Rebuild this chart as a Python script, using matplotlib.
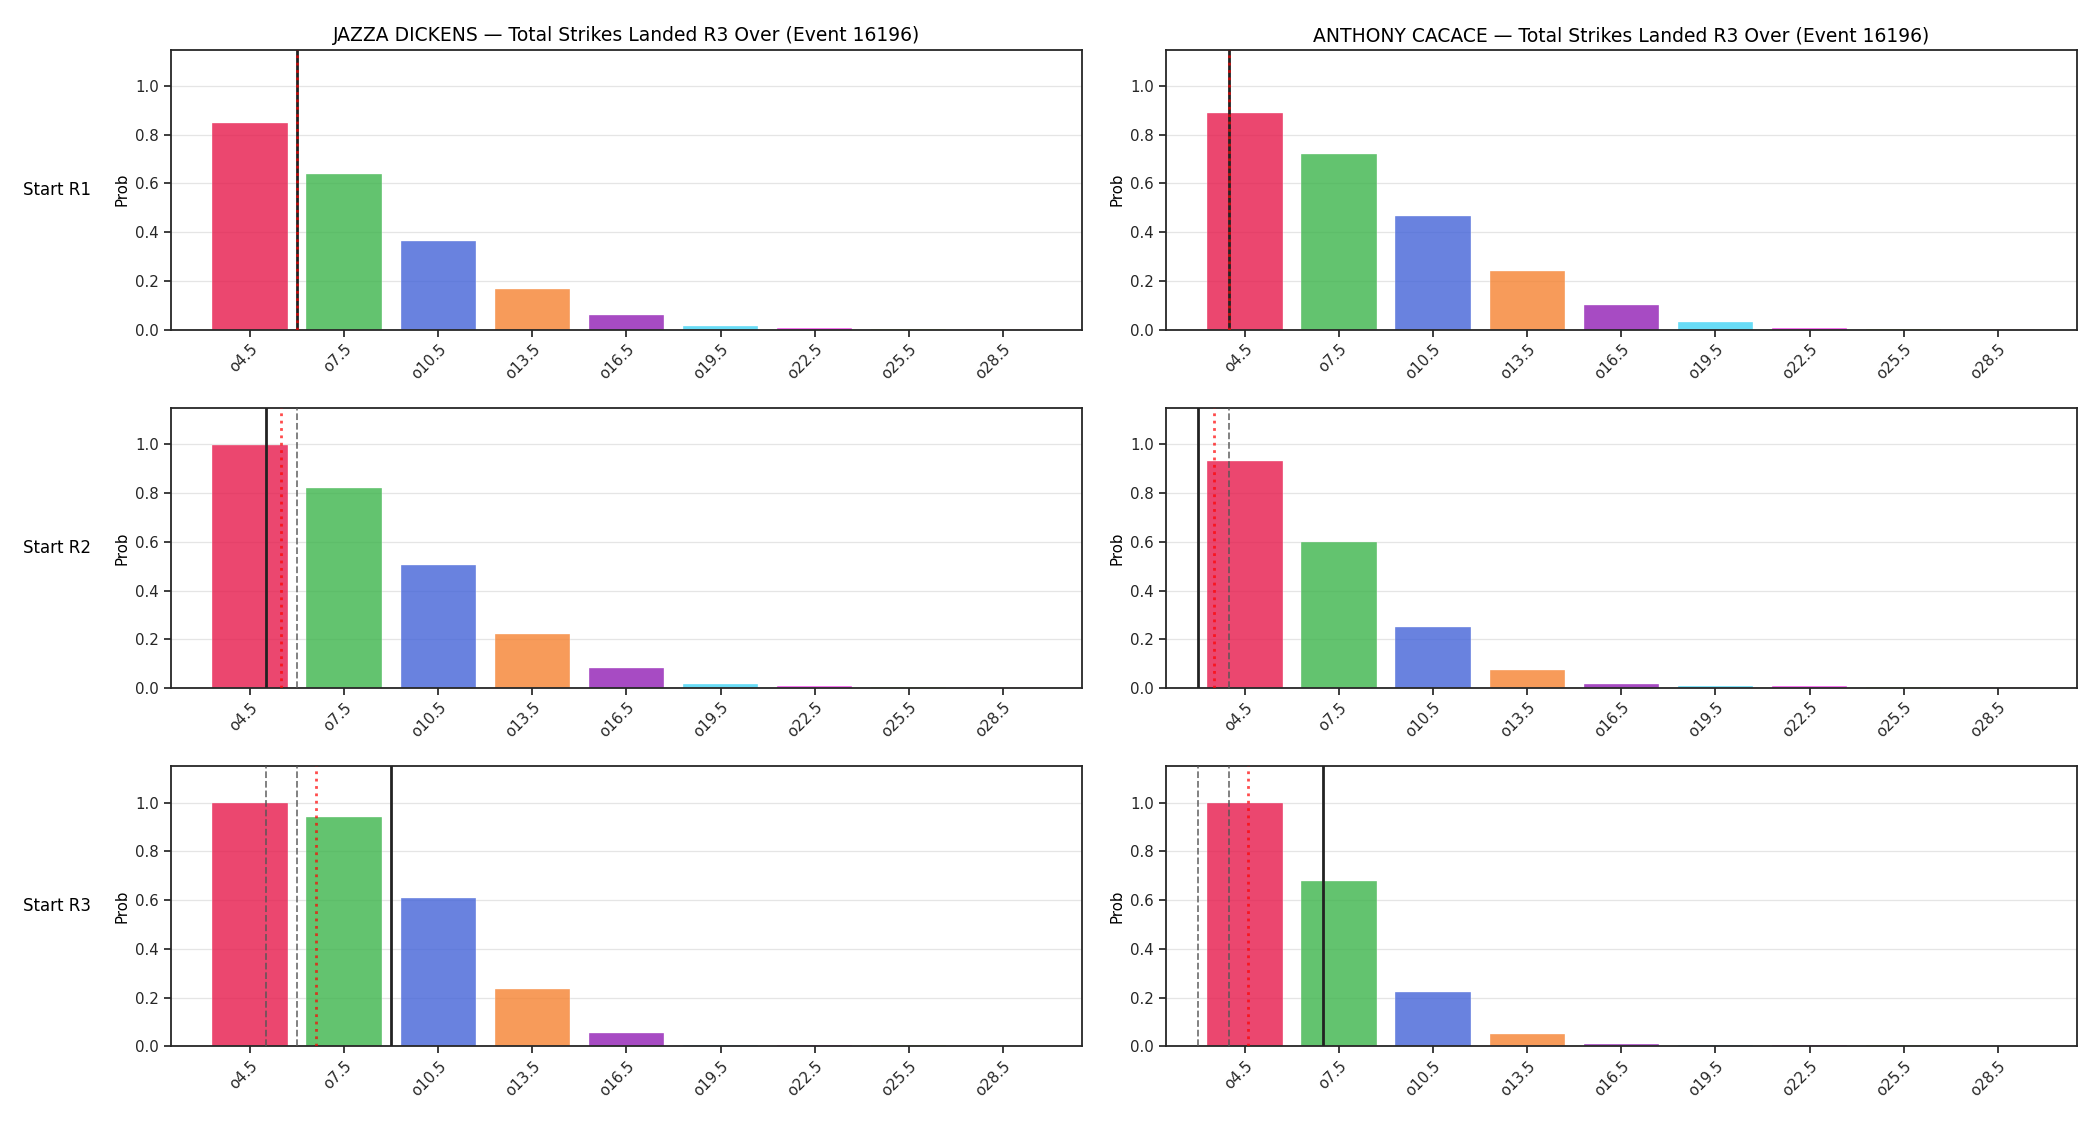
import matplotlib
matplotlib.use("Agg")
import matplotlib.pyplot as plt
import numpy as np

# over lines (strikes landed in R3)
lines = [4.5, 7.5, 10.5, 13.5, 16.5, 19.5, 22.5, 25.5, 28.5]
labels = ["o4.5", "o7.5", "o10.5", "o13.5", "o16.5", "o19.5", "o22.5", "o25.5", "o28.5"]
colors = ["#e6194b", "#3cb44b", "#4363d8", "#f58231", "#911eb4",
          "#42d4f4", "#f032e6", "#bfef45", "#fabed4"]

fighters = ["JAZZA DICKENS", "ANTHONY CACACE"]
row_names = ["Start R1", "Start R2", "Start R3"]

# P(over) per start round
jazza_probs = [
    [0.85, 0.64, 0.365, 0.165, 0.06, 0.016, 0.005, 0.003, 0.002],
    [0.997, 0.82, 0.505, 0.22, 0.083, 0.016, 0.007, 0.005, 0.003],
    [0.997, 0.943, 0.61, 0.237, 0.053, 0.006, 0.005, 0.004, 0.003],
]
cacace_probs = [
    [0.89, 0.72, 0.465, 0.24, 0.10, 0.03, 0.008, 0.004, 0.002],
    [0.93, 0.60, 0.25, 0.075, 0.016, 0.006, 0.006, 0.005, 0.004],
    [0.997, 0.68, 0.222, 0.05, 0.008, 0.005, 0.005, 0.004, 0.003],
]

# projection (solid) and mean (dotted) per start round, in strikes
jazza_proj = [6.0, 5.0, 9.0]
jazza_mean = [6.0, 5.5, 6.6]
cacace_proj = [4.0, 3.0, 7.0]
cacace_mean = [4.0, 3.5, 4.6]

probs = [jazza_probs, cacace_probs]
projs = [jazza_proj, cacace_proj]
means = [jazza_mean, cacace_mean]

plt.rcParams["font.family"] = "DejaVu Sans"
plt.rcParams["axes.edgecolor"] = "#262626"
plt.rcParams["xtick.color"] = "#262626"
plt.rcParams["ytick.color"] = "#262626"

fig, axes = plt.subplots(3, 2, figsize=(21, 11.25), dpi=100)
fig.subplots_adjust(left=0.0814, right=0.989, top=0.956, bottom=0.070,
                    wspace=0.092, hspace=0.279)

for c in range(2):
    for r in range(3):
        ax = axes[r, c]
        ax.bar(lines, probs[c][r], width=2.4, color=colors, alpha=0.8,
               edgecolor="white", linewidth=0.3, zorder=2)
        # earlier starts as grey dashed
        for k in range(r):
            ax.axvline(projs[c][k], color="#555555", linestyle="--",
                       linewidth=1.3, alpha=0.8, zorder=3)
        ax.axvline(projs[c][r], color="#222222", linewidth=2.0, zorder=4)
        ax.axvline(means[c][r], color="red", linestyle=":", linewidth=2.0,
                   alpha=0.7, zorder=5)
        ax.set_ylim(0, 1.15)
        ax.set_xticks(lines)
        ax.set_xticklabels(labels, rotation=45, ha="right",
                           rotation_mode="anchor", fontsize=10.8)
        ax.tick_params(axis="y", labelsize=10.8)
        ax.tick_params(width=1.25, length=5)
        for s in ax.spines.values():
            s.set_linewidth(1.3)
        ax.grid(axis="y", color="#e5e5e5", linewidth=0.9, zorder=0)
        ax.set_axisbelow(True)
        ax.set_ylabel("Prob", fontsize=10.8)
        if r == 0:
            ax.set_title(f"{fighters[c]} \u2014 Total Strikes Landed R3 Over (Event 16196)",
                         fontsize=13.5)

for r in range(3):
    pos = axes[r, 0].get_position()
    fig.text(0.011, (pos.y0 + pos.y1) / 2, row_names[r], fontsize=12,
             ha="left", va="center")

fig.savefig("out.png", dpi=100)
